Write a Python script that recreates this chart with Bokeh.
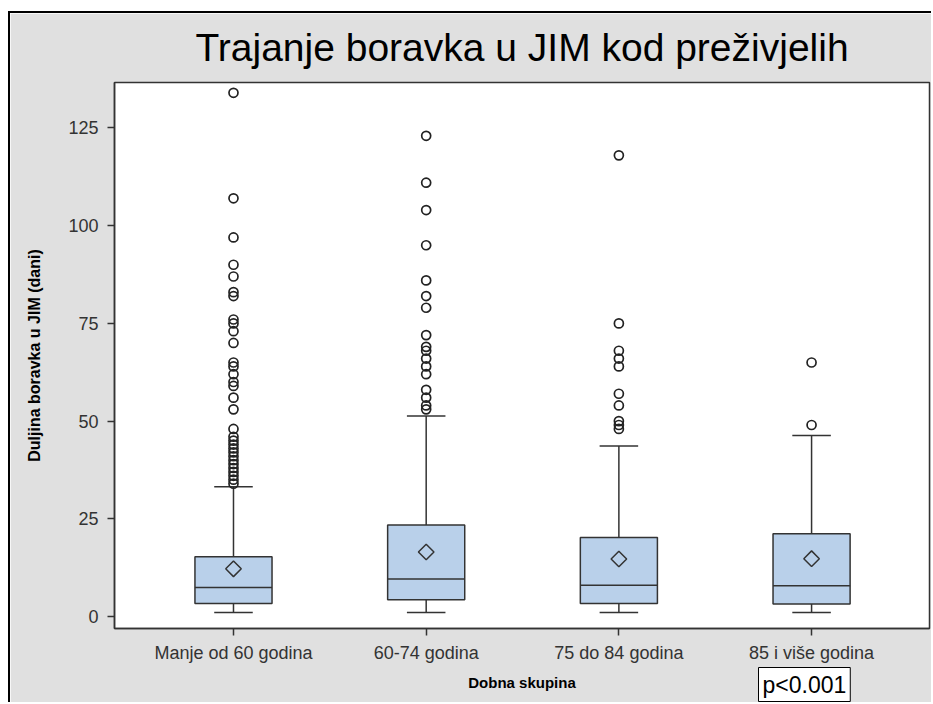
import numpy as np
from bokeh.plotting import figure
from bokeh.models import FixedTicker, Range1d, Title
from bokeh.embed import file_html
from bokeh.resources import INLINE

# ---- data ----
groups = ["Manje od 60 godina", "60-74 godina", "75 do 84 godina", "85 i više godina"]
q1 = [3.3, 4.3, 3.3, 3.2]
median = [7.4, 9.6, 8.0, 7.9]
q3 = [15.3, 23.4, 20.2, 21.2]
mean = [12.2, 16.5, 14.7, 14.8]
whisker_low = [1, 1, 1, 1]
whisker_high = [33.2, 51.3, 43.6, 46.3]
outliers_g1 = [134, 107, 97, 90, 87, 83, 82, 76, 75, 73, 70, 65, 64, 62, 60, 59,
               56, 53, 48, 46, 45, 44, 43, 42, 41, 40, 39, 38, 37, 36, 35, 34]
outliers_g2 = [123, 111, 104, 95, 86, 82, 79, 72, 69, 68, 66, 64, 62, 58, 56, 54, 53]
outliers_g3 = [118, 75, 68, 66, 64, 57, 54, 50, 49, 48]
outliers_g4 = [65, 49]
y_ticks = [0, 25, 50, 75, 100, 125]
title_text = "Trajanje boravka u JIM kod preživjelih"
x_title = "Dobna skupina"
y_title = "Duljina boravka u JIM (dani)"
p_text = "p<0.001"

xpos = [i + 1 for i in range(len(groups))]
outliers = [outliers_g1, outliers_g2, outliers_g3, outliers_g4]

BG = "#E0E0E0"
DARK = "#333333"
BOX = "#B9D0EA"

p = figure(width=923, height=691, output_backend="svg", toolbar_location=None,
           x_range=Range1d(0.3825, 4.612), y_range=Range1d(-3.07, 136.64),
           min_border_left=104, min_border_right=4, min_border_top=69, min_border_bottom=76,
           background_fill_color="white", border_fill_color=BG)
p.styles = {"position": "relative", "left": "8px", "top": "11px",
            "border-top": "2px solid black", "border-left": "2px solid black"}

p.title.text = title_text
p.title.text_font = "Liberation Sans"
p.title.text_font_size = "39px"
p.title.text_font_style = "normal"
p.title.text_color = "black"
p.title.align = "center"
p.title.vertical_align = "top"
p.title.standoff = 24

p.outline_line_color = DARK
p.outline_line_width = 1.5
p.xgrid.visible = False
p.ygrid.visible = False

# boxes
bw = 0.4
cw = 0.2
p.vbar(x=xpos, width=bw, bottom=q1, top=q3, fill_color=BOX, line_color=DARK, line_width=1.5)
p.segment(x0=[x - bw / 2 for x in xpos], x1=[x + bw / 2 for x in xpos], y0=median, y1=median,
          line_color=DARK, line_width=1.5)
p.segment(x0=xpos, x1=xpos, y0=q3, y1=whisker_high, line_color=DARK, line_width=1.5)
p.segment(x0=xpos, x1=xpos, y0=q1, y1=whisker_low, line_color=DARK, line_width=1.5)
p.segment(x0=[x - cw / 2 for x in xpos], x1=[x + cw / 2 for x in xpos], y0=whisker_high,
          y1=whisker_high, line_color=DARK, line_width=1.5)
p.segment(x0=[x - cw / 2 for x in xpos], x1=[x + cw / 2 for x in xpos], y0=whisker_low,
          y1=whisker_low, line_color=DARK, line_width=1.5)

# mean diamonds
p.scatter(x=xpos, y=mean, marker="square", angle=np.pi / 4, size=11,
          fill_color=None, line_color=DARK, line_width=1.5)

# outliers
ox, oy = [], []
for x, vals in zip(xpos, outliers):
    ox += [x] * len(vals)
    oy += vals
p.scatter(x=ox, y=oy, marker="circle", size=9, fill_color=None, line_color="#222222", line_width=1.7)

# axes
p.xaxis.ticker = FixedTicker(ticks=xpos)
p.xaxis.major_label_overrides = {x: g for x, g in zip(xpos, groups)}
p.yaxis.ticker = FixedTicker(ticks=y_ticks)
for ax in (p.xaxis, p.yaxis):
    ax.axis_line_color = DARK
    ax.axis_line_width = 1.5
    ax.major_tick_line_color = DARK
    ax.major_tick_line_width = 1.5
    ax.major_tick_out = 7
    ax.major_tick_in = 0
    ax.minor_tick_line_color = None
    ax.major_label_text_font = "Liberation Sans"
    ax.major_label_text_font_size = "18px"
    ax.major_label_text_color = DARK
    ax.axis_label_text_font = "Liberation Sans"
    ax.axis_label_text_font_style = "bold"
    ax.axis_label_text_color = "black"
p.xaxis.axis_label = x_title
p.yaxis.axis_label = y_title
p.xaxis.axis_label_text_font_size = "15px"
p.yaxis.axis_label_text_font_size = "16px"
p.xaxis.major_label_standoff = 7
p.xaxis.axis_label_standoff = 8
p.yaxis.major_label_standoff = 9
p.yaxis.axis_label_standoff = 22

# p-value box below the axis
pt = Title(text=p_text, align="left", offset=644, vertical_align="top", standoff=-52,
           text_font="Liberation Sans", text_font_size="23px", text_font_style="normal",
           text_color="black", background_fill_color="white",
           border_line_color="black", border_line_width=1, padding=4)
p.add_layout(pt, "below")

open("out.html", "w").write(file_html(p, INLINE))
